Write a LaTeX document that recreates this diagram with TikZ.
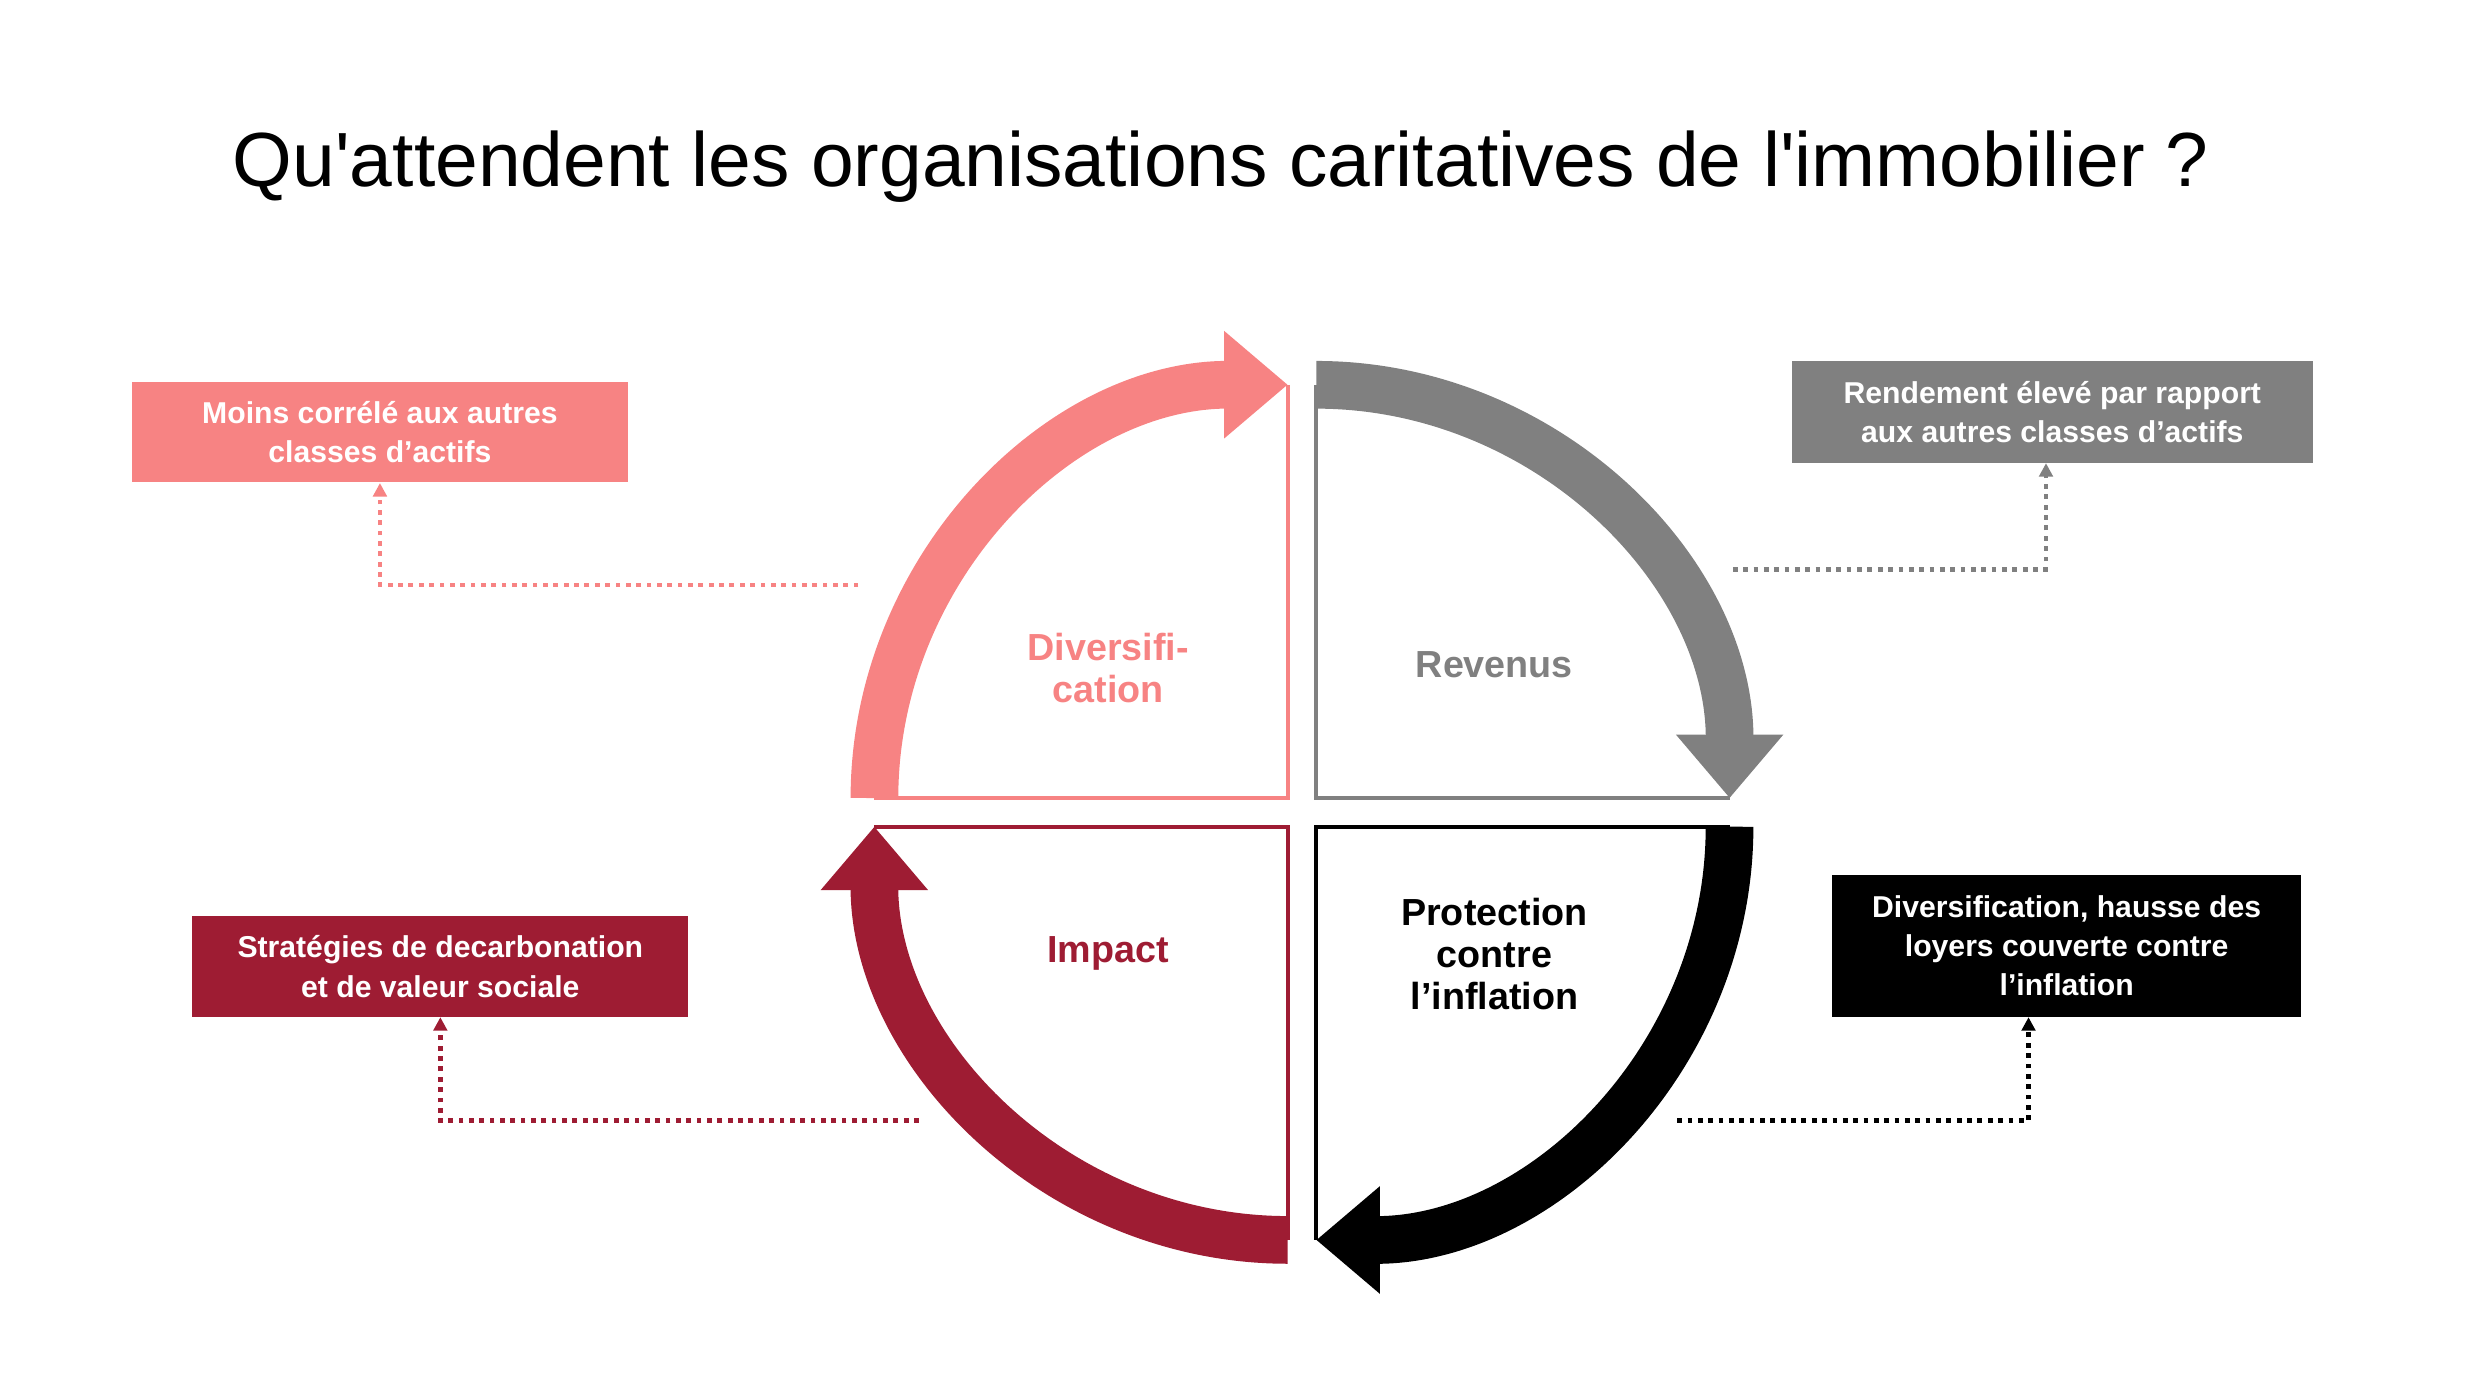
\documentclass[tikz,border=0pt]{standalone}
\usepackage{fontspec}
\setmainfont{Liberation Sans}
\usetikzlibrary{arrows.meta}
\definecolor{rosec}{HTML}{F78383}
\definecolor{grisc}{HTML}{808080}
\definecolor{rougec}{HTML}{9E1C33}
\tikzset{
  band/.style={line width=0.6cm, -{Triangle[length=0.8cm,width=1.3cm]}},
  edge/.style={line width=0.05cm},
  qlabel/.style={font=\fontsize{13.5}{15}\selectfont\bfseries, align=center},
  infobox/.style={font=\fontsize{10.8}{14}\selectfont\bfseries, text=white, align=center, inner sep=0pt},
  link/.style={dotted, line width=0.06cm, -{Triangle[length=0.17cm,width=0.17cm]}}
}
\begin{document}
\begin{tikzpicture}[x=0.02cm,y=0.02cm]
\useasboundingbox (0,0) rectangle (1560,877);
% Title
\node (title) at (768,772) {\fontsize{27.5}{32}\selectfont Qu\textquotesingle attendent les organisations caritatives de l\textquotesingle immobilier ?};
% Quadrant centres
\coordinate (cTL) at (810,375);
\coordinate (cTR) at (828,375);
\coordinate (cBR) at (828,357);
\coordinate (cBL) at (810,357);
% Quadrant outlines
\draw[edge,rosec] ([yshift=5.2cm]cTL) -- (cTL) -- ([xshift=-5.2cm]cTL);
\draw[edge,grisc] ([yshift=5.2cm]cTR) -- (cTR) -- ([xshift=5.2cm]cTR);
\draw[edge,black] ([yshift=-5.2cm]cBR) -- (cBR) -- ([xshift=5.2cm]cBR);
\draw[edge,rougec] ([yshift=-5.2cm]cBL) -- (cBL) -- ([xshift=-5.2cm]cBL);
% The thick arrows
\draw[band,rosec] ([xshift=-5.2cm]cTL) arc[start angle=180, end angle=90, radius=260];
\draw[band,grisc] ([yshift=5.2cm]cTR) arc[start angle=90, end angle=0, radius=260];
\draw[band,black] ([xshift=5.2cm]cBR) arc[start angle=0, end angle=-90, radius=260];
\draw[band,rougec] ([yshift=-5.2cm]cBL) arc[start angle=270, end angle=180, radius=260];
% Quadrant labels
\node[qlabel,text=rosec] (divers) at (697,457) {Diversifi-\\cation};
\node[qlabel,text=grisc] (revenus) at (940,459) {Revenus};
\node[qlabel,text=rougec] (impact) at (697,277) {Impact};
\node[qlabel,text=black] (protect) at (940,277) {Protection\\contre\\l’inflation};
% Boxes
\node[infobox,fill=rosec,minimum width=6.24cm,minimum height=1.26cm] (boxA) at (239,605) {Moins corrélé aux autres\\classes d’actifs};
\node[infobox,fill=grisc,minimum width=6.56cm,minimum height=1.28cm] (boxB) at (1291,618) {Rendement élevé par rapport\\aux autres classes d’actifs};
\node[infobox,fill=rougec,minimum width=6.24cm,minimum height=1.26cm] (boxC) at (277,269) {Stratégies de decarbonation\\et de valeur sociale};
\node[infobox,fill=black,minimum width=5.9cm,minimum height=1.78cm] (boxD) at (1300,282) {Diversification, hausse des\\loyers couverte contre\\l’inflation};
% Dotted links
\coordinate (fA) at (540,509);
\coordinate (fB) at (1090,519);
\coordinate (fC) at (578,172);
\coordinate (fD) at (1055,172);
\draw[link,rosec] (fA) -| (boxA.south);
\draw[link,grisc] (fB) -| ([xshift=-0.08cm]boxB.south);
\draw[link,rougec] (fC) -| (boxC.south);
\draw[link,black] (fD) -| ([xshift=-0.48cm]boxD.south);
\end{tikzpicture}
\end{document}
